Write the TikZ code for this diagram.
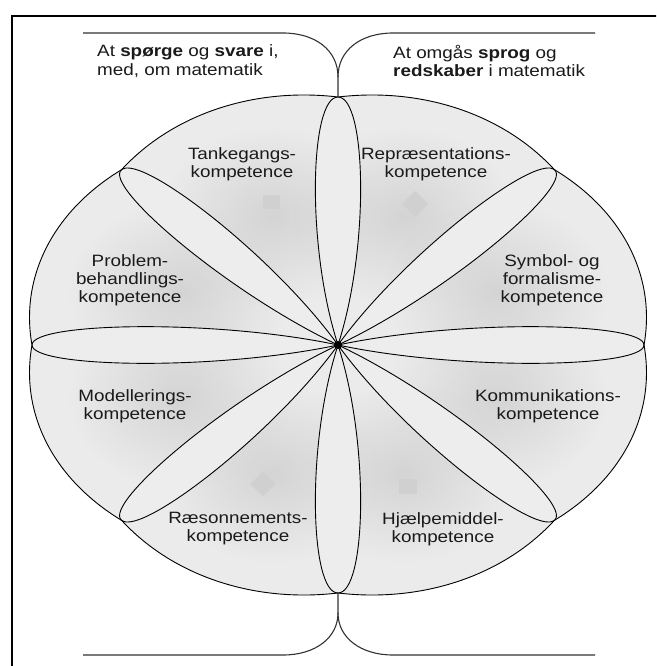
\documentclass[tikz,border=0pt]{standalone}
\usepackage{fontspec}
\setmainfont{Liberation Sans}
\newfontfamily\labelfont[FakeStretch=1.15]{Liberation Sans}
\usetikzlibrary{calc,fadings}

\definecolor{ballbase}{HTML}{EBEBEB}
\definecolor{ballshade}{HTML}{D4D4D4}
\definecolor{petalfill}{HTML}{EDEDED}
\definecolor{markfill}{HTML}{D0D0D0}
\definecolor{ink}{HTML}{1A1A1A}
\definecolor{rule}{HTML}{333333}

% soft blob: opaque centre fading out to the rim
\tikzfading[name=softblob, inner color=transparent!0, outer color=transparent!100]

\begin{document}
\begin{tikzpicture}[x=1pt,y=-1pt,
  lbl/.style={font={\labelfont\fontsize{16.4}{18}\selectfont}, text=ink, align=center, inner sep=0pt},
  headtext/.style={font={\labelfont\fontsize{16.4}{18.5}\selectfont}, text=ink, align=left, inner sep=0pt, anchor=west},
  outline/.style={draw=black, line width=0.9pt},
  petal/.style={fill=petalfill, draw=black, line width=0.9pt},
  conn/.style={draw=rule, line width=1.1pt},
  frameline/.style={draw=black, line width=2pt},
  markshape/.style={fill=markfill, draw=none}]

\clip (0,0) rectangle (656,666);
\fill[white] (0,0) rectangle (656,666);

% outer frame (open to the right and bottom)
\draw[frameline] (12,16) rectangle (720,730);

% key points
\coordinate (O) at (338,345);
\coordinate (ballTop) at (338,97);
\coordinate (ballBot) at (338,593);
\coordinate (topJoin) at (338,77);
\coordinate (botJoin) at (338,613);
\coordinate (topLa) at (83,33);
\coordinate (topLb) at (283,33);
\coordinate (topRa) at (595,33);
\coordinate (topRb) at (393,33);
\coordinate (botLa) at (83,655);
\coordinate (botLb) at (283,655);
\coordinate (botRa) at (595,655);
\coordinate (botRb) at (393,655);

% the ball: eight arcs between the petal tips, built in a unit frame
\begin{scope}[shift={(O)}, xscale=306, yscale=248]
  \fill[ballbase] (0:1) \foreach \a in {0,45,...,315}{
      .. controls ({\a+14.85}:1.076) and ({\a+30.15}:1.076) .. ({\a+45}:1)} -- cycle;
  \begin{scope}
    \clip (0:1) \foreach \a in {0,45,...,315}{
      .. controls ({\a+14.85}:1.076) and ({\a+30.15}:1.076) .. ({\a+45}:1)} -- cycle;
    \foreach \a in {22.5,67.5,...,337.5}
      \fill[ballshade, path fading=softblob] (\a:0.56) circle (0.36);
  \end{scope}
  % petals from the centre to each tip
  \foreach \a in {0,45,...,315}
    \filldraw[petal, rotate=\a] (0,0) .. controls (0.4,0.105) and (1,0.092) .. (1,0)
      .. controls (1,-0.092) and (0.4,-0.105) .. (0,0) -- cycle;
  \draw[outline] (0:1) \foreach \a in {0,45,...,315}{
      .. controls ({\a+14.85}:1.076) and ({\a+30.15}:1.076) .. ({\a+45}:1)} -- cycle;
\end{scope}

% small markers in four of the sectors
\fill[markshape] (263,195) rectangle (280,209);
\fill[markshape] (415,191) -- (428,204) -- (415,217) -- (402,204) -- cycle;
\fill[markshape] (263,472) -- (276,484) -- (263,496) -- (250,484) -- cycle;
\fill[markshape] (399,479) rectangle (417,494);

% centre point
\fill[black] (O) circle (4);

% connectors above and below the ball
\draw[conn] (topLa) -- (topLb) .. controls (315,33) and (338,50) .. (topJoin) -- (ballTop);
\draw[conn] (topRa) -- (topRb) .. controls (361,33) and (338,50) .. (topJoin);
\draw[conn] (botLa) -- (botLb) .. controls (315,655) and (338,638) .. (botJoin) -- (ballBot);
\draw[conn] (botRa) -- (botRb) .. controls (361,655) and (338,638) .. (botJoin);

% headings
\node[headtext] (askhead) at (97,61) {At \textbf{spørge} og \textbf{svare} i,\\med, om matematik};
\node[headtext] (langhead) at (393,61) {At omgås \textbf{sprog} og\\\textbf{redskaber} i matematik};

% competence labels
\node[lbl] (tanke) at (242,164) {Tankegangs-\\kompetence};
\node[lbl] (repr) at (436,164) {Repræsentations-\\kompetence};
\node[lbl] (probl) at (130,280) {Problem-\\behandlings-\\kompetence};
\node[lbl] (symb) at (552,280) {Symbol- og\\formalisme-\\kompetence};
\node[lbl] (model) at (135,406) {Modellerings-\\kompetence};
\node[lbl] (komm) at (548,406) {Kommunikations-\\kompetence};
\node[lbl] (raes) at (238,529) {Ræsonnements-\\kompetence};
\node[lbl] (hjaelp) at (443,529) {Hjælpemiddel-\\kompetence};

\end{tikzpicture}
\end{document}
